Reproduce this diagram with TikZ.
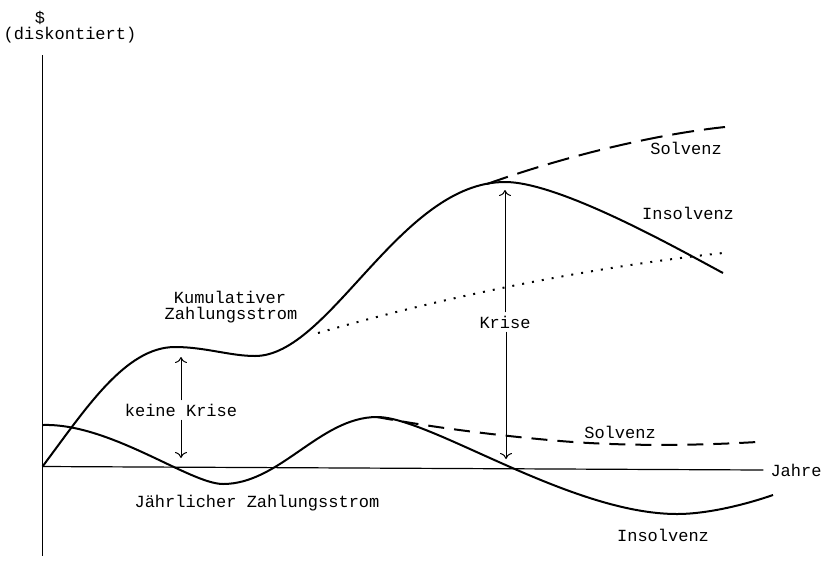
\documentclass[tikz,border=0pt]{standalone}
\usepackage{fontspec}
\setmonofont{Liberation Mono}
\usetikzlibrary{arrows.meta}

\begin{document}
\begin{tikzpicture}[x=0.5pt,y=-0.5pt,font=\ttfamily\fontsize{8.5}{10}\selectfont,
  curve/.style={line width=1pt,line join=round},
  gap/.style={inner sep=1.5pt}]
  \useasboundingbox (0,0) rectangle (822,562);

  % axes
  \node (dollar) at (40,18) {\$};
  \node (dk) at (70,35) {(diskontiert)};
  \node (jahre) at (796,470) {Jahre};
  \coordinate (o) at (42.5,466.5);
  \coordinate (ytop) at (42.5,55);
  \coordinate (ybot) at (42.5,556);
  \draw[line width=0.6pt] (ytop) -- (ybot);
  \draw[line width=0.6pt] (o) -- (jahre.west);

  % kumulativer Zahlungsstrom
  \draw[curve] (o) .. controls (85,410) and (125,347) .. (175,347)
    .. controls (205,347) and (230,356) .. (255,356)
    .. controls (330,356) and (400,182) .. (505,182)
    .. controls (560,182) and (680,250) .. (723,273);
  \draw[curve,dash pattern=on 11pt off 5pt] (487,184) .. controls (560,158) and (650,135) .. (725,127);
  \draw[line width=1pt,dash pattern=on 1pt off 4pt] (318,333) .. controls (450,295) and (600,266) .. (723,253);

  % jaehrlicher Zahlungsstrom
  \draw[curve] (43,425) .. controls (110,423) and (190,484) .. (223,484)
    .. controls (280,484) and (320,417) .. (377,417)
    .. controls (430,417) and (570,514) .. (677,514)
    .. controls (710,514) and (750,503) .. (773,495);
  \draw[curve,dash pattern=on 8pt off 5pt] (377,417) .. controls (420,425) and (480,434) .. (560,441)
    .. controls (620,446) and (690,446) .. (757,442);

  % labels
  \node (kum) at (230,297) {Kumulativer};
  \node (kum2) at (231,315) {Zahlungsstrom};
  \node (jz) at (257,503) {Jährlicher Zahlungsstrom};
  \node (solv1) at (686,148) {Solvenz};
  \node (insolv1) at (688,213) {Insolvenz};
  \node (solv2) at (620,432) {Solvenz};
  \node (insolv2) at (663,535) {Insolvenz};

  % Krise / keine Krise
  \node[gap] (kk) at (181,410) {keine Krise};
  \coordinate (kkup) at (181,357);
  \coordinate (kkdn) at (181,458);
  \draw[line width=0.5pt,-{To[length=3pt,width=6pt]}] (kk.north -| kkup) -- (kkup);
  \draw[line width=0.5pt,-{To[length=3pt,width=6pt]}] (kk.south -| kkdn) -- (kkdn);

  \node[gap] (kr) at (505,322) {Krise};
  \coordinate (krup) at (505,190);
  \coordinate (krdn) at (506,459);
  \draw[line width=0.5pt,-{To[length=3pt,width=6pt]}] (kr.north) -- (krup);
  \draw[line width=0.5pt,-{To[length=3pt,width=6pt]}] (kr.south -| krdn) -- (krdn);
\end{tikzpicture}
\end{document}
